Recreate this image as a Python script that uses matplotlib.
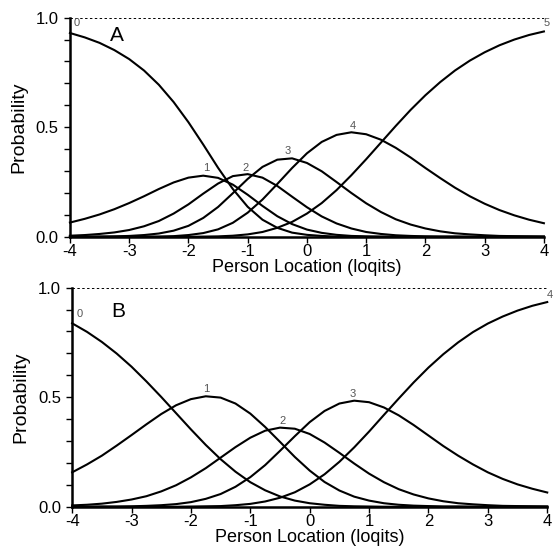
import numpy as np
import matplotlib
matplotlib.use("Agg")
import matplotlib.pyplot as plt
from matplotlib.ticker import MultipleLocator

plt.rcParams["font.family"] = ["Liberation Sans", "DejaVu Sans"]

# Person location grid (logits), same for both panels
x = [-4.0, -3.75, -3.5, -3.25, -3.0, -2.75, -2.5, -2.25, -2.0, -1.75, -1.5,
     -1.25, -1.0, -0.75, -0.5, -0.25, 0.0, 0.25, 0.5, 0.75, 1.0, 1.25, 1.5,
     1.75, 2.0, 2.25, 2.5, 2.75, 3.0, 3.25, 3.5, 3.75, 4.0]

# Panel A: category probability curves 0..5
a_cat0 = [0.930, 0.910, 0.885, 0.852, 0.811, 0.759, 0.694, 0.615, 0.523,
          0.421, 0.315, 0.218, 0.137, 0.078, 0.041, 0.019, 0.009, 0.004,
          0.001, 0.001, 0.000, 0.000, 0.000, 0.000, 0.000, 0.000, 0.000,
          0.000, 0.000, 0.000, 0.000, 0.000, 0.000]
a_cat1 = [0.065, 0.082, 0.102, 0.126, 0.154, 0.185, 0.218, 0.248, 0.270,
          0.279, 0.269, 0.238, 0.192, 0.141, 0.094, 0.058, 0.033, 0.018,
          0.009, 0.004, 0.002, 0.001, 0.000, 0.000, 0.000, 0.000, 0.000,
          0.000, 0.000, 0.000, 0.000, 0.000, 0.000]
a_cat2 = [0.005, 0.008, 0.013, 0.020, 0.031, 0.048, 0.072, 0.106, 0.148,
          0.197, 0.243, 0.277, 0.286, 0.270, 0.232, 0.183, 0.135, 0.093,
          0.061, 0.038, 0.022, 0.013, 0.007, 0.004, 0.002, 0.001, 0.001,
          0.000, 0.000, 0.000, 0.000, 0.000, 0.000]
a_cat3 = [0.000, 0.000, 0.001, 0.002, 0.004, 0.008, 0.015, 0.028, 0.050,
          0.086, 0.136, 0.199, 0.264, 0.319, 0.352, 0.358, 0.337, 0.299,
          0.250, 0.200, 0.153, 0.113, 0.080, 0.056, 0.038, 0.025, 0.016,
          0.011, 0.007, 0.004, 0.003, 0.002, 0.001]
a_cat4 = [0.000, 0.000, 0.000, 0.000, 0.000, 0.001, 0.001, 0.003, 0.008,
          0.017, 0.034, 0.064, 0.110, 0.170, 0.241, 0.314, 0.381, 0.433,
          0.465, 0.477, 0.468, 0.443, 0.406, 0.362, 0.314, 0.268, 0.224,
          0.185, 0.151, 0.122, 0.098, 0.078, 0.062]
a_cat5 = [0.000, 0.000, 0.000, 0.000, 0.000, 0.000, 0.000, 0.000, 0.000,
          0.001, 0.002, 0.005, 0.011, 0.022, 0.041, 0.068, 0.106, 0.154,
          0.213, 0.281, 0.354, 0.430, 0.506, 0.579, 0.646, 0.706, 0.759,
          0.804, 0.842, 0.874, 0.900, 0.921, 0.937]
a_curves = [a_cat0, a_cat1, a_cat2, a_cat3, a_cat4, a_cat5]
a_labels = ["0", "1", "2", "3", "4", "5"]
a_label_pos = [(-3.88, 0.955), (-1.7, 0.29), (-1.03, 0.292),
               (-0.33, 0.37), (0.78, 0.485), (4.04, 0.955)]

# Panel B: category probability curves 0..4
b_cat0 = [0.837, 0.798, 0.752, 0.699, 0.639, 0.572, 0.501, 0.427, 0.353,
          0.282, 0.217, 0.160, 0.112, 0.075, 0.047, 0.028, 0.016, 0.009,
          0.004, 0.002, 0.001, 0.000, 0.000, 0.000, 0.000, 0.000, 0.000,
          0.000, 0.000, 0.000, 0.000, 0.000, 0.000]
b_cat1 = [0.157, 0.193, 0.233, 0.279, 0.327, 0.376, 0.423, 0.463, 0.491,
          0.504, 0.498, 0.471, 0.425, 0.364, 0.296, 0.227, 0.165, 0.113,
          0.074, 0.046, 0.028, 0.016, 0.009, 0.005, 0.003, 0.001, 0.001,
          0.000, 0.000, 0.000, 0.000, 0.000, 0.000]
b_cat2 = [0.006, 0.009, 0.014, 0.022, 0.033, 0.048, 0.070, 0.098, 0.134,
          0.176, 0.224, 0.272, 0.315, 0.347, 0.361, 0.356, 0.332, 0.293,
          0.246, 0.197, 0.151, 0.112, 0.080, 0.056, 0.038, 0.025, 0.016,
          0.011, 0.007, 0.004, 0.003, 0.002, 0.001]
b_cat3 = [0.000, 0.000, 0.001, 0.001, 0.002, 0.004, 0.007, 0.012, 0.021,
          0.036, 0.058, 0.091, 0.135, 0.190, 0.255, 0.322, 0.386, 0.437,
          0.471, 0.484, 0.477, 0.453, 0.417, 0.373, 0.325, 0.277, 0.233,
          0.193, 0.157, 0.127, 0.102, 0.082, 0.065]
b_cat4 = [0.000, 0.000, 0.000, 0.000, 0.000, 0.000, 0.000, 0.000, 0.001,
          0.002, 0.003, 0.007, 0.013, 0.024, 0.041, 0.066, 0.102, 0.148,
          0.205, 0.271, 0.343, 0.419, 0.494, 0.567, 0.635, 0.696, 0.750,
          0.797, 0.836, 0.868, 0.895, 0.917, 0.934]
b_curves = [b_cat0, b_cat1, b_cat2, b_cat3, b_cat4]
b_labels = ["0", "1", "2", "3", "4"]
b_label_pos = [(-3.88, 0.855), (-1.75, 0.515), (-0.45, 0.368),
               (0.72, 0.49), (4.04, 0.945)]

fig = plt.figure(figsize=(5.55, 5.52), dpi=100)
ax_a = fig.add_axes([0.126, 0.571, 0.854, 0.397])
ax_b = fig.add_axes([0.130, 0.082, 0.856, 0.397])


def draw_panel(ax, curves, labels, label_pos, letter, letter_pos):
    for y, lab, (lx, ly) in zip(curves, labels, label_pos):
        ax.plot(x, y, color="black", lw=1.5, clip_on=False)
        ax.text(lx, ly, lab, fontsize=8, color="#555555",
                ha="center", va="bottom")
    ax.axhline(1.0, color="black", lw=0.7, ls=(0, (2.5, 2.5)))
    ax.text(letter_pos[0], letter_pos[1], letter, fontsize=15,
            ha="center", va="center")

    ax.set_xlim(-4, 4)
    ax.set_ylim(0, 1)
    ax.set_xticks(range(-4, 5))
    ax.set_xticklabels([str(v) for v in range(-4, 5)])
    ax.set_yticks([0.0, 0.5, 1.0])
    ax.set_yticklabels(["0.0", "0.5", "1.0"])
    ax.yaxis.set_minor_locator(MultipleLocator(0.1))
    ax.tick_params(axis="both", which="major", labelsize=12,
                   length=4, width=1)
    ax.tick_params(axis="x", which="major", pad=1)
    ax.tick_params(axis="y", which="major", pad=4)
    ax.tick_params(axis="y", which="minor", length=4, width=1)
    for s in ["top", "right"]:
        ax.spines[s].set_visible(False)
    for s in ["left", "bottom"]:
        ax.spines[s].set_linewidth(1.8)
    ax.set_ylabel("Probability", fontsize=14, labelpad=6)
    ax.set_xlabel("Person Location (loqits)", fontsize=13, labelpad=0)


draw_panel(ax_a, a_curves, a_labels, a_label_pos, "A", (-3.2, 0.92))
draw_panel(ax_b, b_curves, b_labels, b_label_pos, "B", (-3.23, 0.89))

fig.savefig("out.png", dpi=100)
